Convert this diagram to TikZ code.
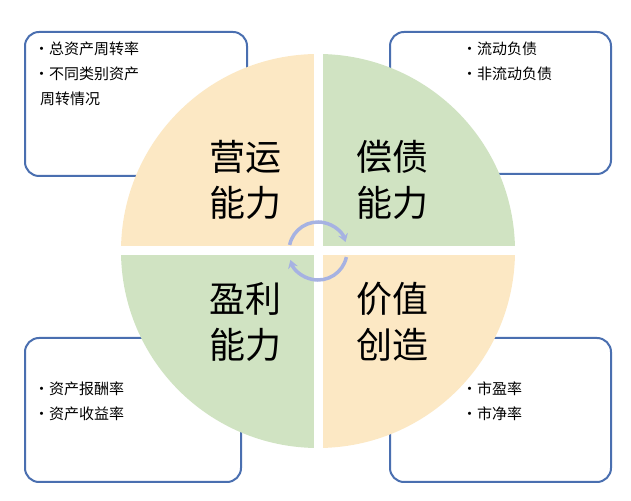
\documentclass[tikz,border=0pt]{standalone}
\usepackage{fontspec}
\usetikzlibrary{arrows.meta,calc}
\newfontfamily\cjk{Noto Sans CJK SC}
\begin{document}
\begin{tikzpicture}[x=1pt,y=1pt,
  box/.style={draw=boxblue,line width=2pt,rounded corners=14pt,fill=white},
  small/.style={font=\cjk\fontsize{15}{25}\selectfont,anchor=north west,align=left,inner sep=0},
  big/.style={font=\cjk\fontsize{36}{46}\selectfont,align=center,inner sep=0},
  arr/.style={draw=arrblue,line width=3.5pt,-{Stealth[length=8pt,width=10pt]}}]
\definecolor{boxblue}{HTML}{4A6FB0}
\definecolor{peach}{HTML}{FCE8C4}
\definecolor{sage}{HTML}{D0E3C2}
\definecolor{arrblue}{HTML}{A6B2E2}
\useasboundingbox (0,0) rectangle (631,500);
\draw[box] (25,468) rectangle (247,324);
\draw[box] (390,468) rectangle (611,326);
\draw[box] (25,162) rectangle (241,18);
\draw[box] (390,162) rectangle (611,18);
\node[small] (t1) at (34,458) {•总资产周转率\\•不同类别资产\\\ \,周转情况};
\node[small] (t2) at (462,458) {•流动负债\\•非流动负债};
\node[small] (t3) at (34,118) {•资产报酬率\\•资产收益率};
\node[small] (t4) at (462,118) {•市盈率\\•市净率};
\coordinate (c) at (318,249);
\fill[peach] (c) -- ++(-197,0) arc[start angle=180,end angle=90,radius=197] -- cycle;
\fill[sage] (c) -- ++(0,197) arc[start angle=90,end angle=0,radius=197] -- cycle;
\fill[sage] (c) -- ++(-197,0) arc[start angle=180,end angle=270,radius=197] -- cycle;
\fill[peach] (c) -- ++(197,0) arc[start angle=0,end angle=-90,radius=197] -- cycle;
\draw[white,line width=9pt] (318,450) -- (318,48) (115,249) -- (521,249);
\node[big] (q1) at (245,320) {营运\\能力};
\node[big] (q2) at (392,320) {偿债\\能力};
\node[big] (q3) at (245,178) {盈利\\能力};
\node[big] (q4) at (392,178) {价值\\创造};
\draw[arr] ($(c)+(168:29)$) arc[start angle=168,end angle=18,radius=29];
\draw[arr] ($(c)+(-12:29)$) arc[start angle=-12,end angle=-162,radius=29];
\end{tikzpicture}
\end{document}
